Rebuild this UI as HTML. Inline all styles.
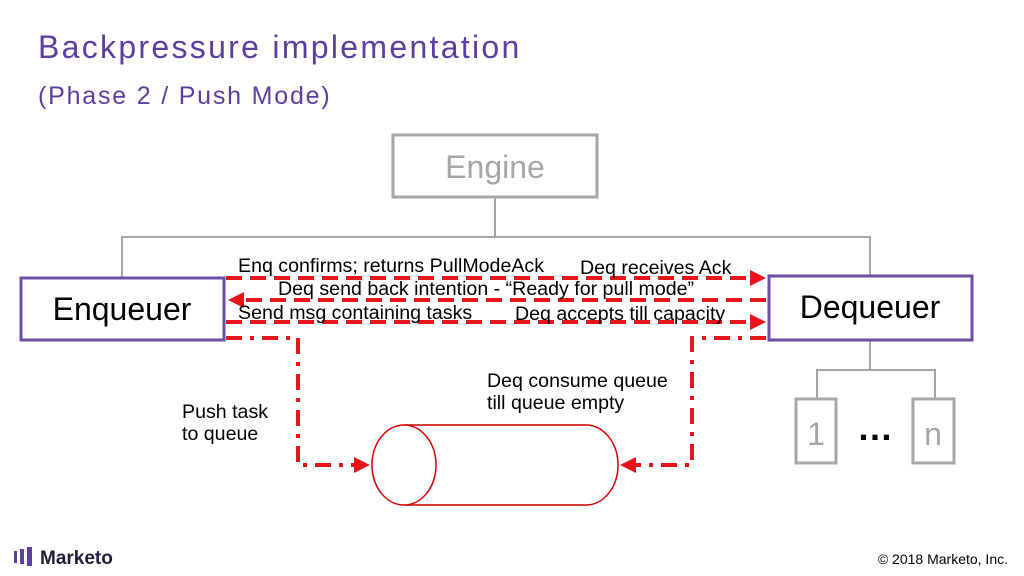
<!DOCTYPE html>
<html><head><style>
body{margin:0;width:1024px;height:576px;background:#fff;overflow:hidden;font-family:"Liberation Sans",sans-serif;position:relative}
.t{position:absolute;white-space:nowrap}
</style></head><body>
<div class="t" style="left:38px;top:29px;font-size:32px;letter-spacing:2.3px;color:#5b3fa0">Backpressure implementation</div>
<div class="t" style="left:38px;top:82px;font-size:25px;letter-spacing:1.8px;color:#5b3fa0">(Phase 2 / Push Mode)</div>
<svg width="1024" height="576" style="position:absolute;left:0;top:0" font-family="Liberation Sans, sans-serif">
<defs><marker id="a" markerWidth="4" markerHeight="4" refX="2" refY="2" orient="auto"><path d="M0,0L4,2L0,4z" fill="#e8141a"/></marker></defs>
<g stroke="#a6a6a6" stroke-width="2" fill="none">
<path d="M495,197V237M122,278V237H870V276M870,340V370M817,398V370H935V398"/>
</g>
<rect x="393" y="135" width="204" height="62" fill="#fff" stroke="#a6a6a6" stroke-width="3"/>
<text x="495" y="178" font-size="32" fill="#a6a6a6" text-anchor="middle">Engine</text>
<rect x="21" y="278" width="203" height="62" fill="#fff" stroke="#6a50a7" stroke-width="3"/>
<text x="122" y="320" font-size="32" text-anchor="middle">Enqueuer</text>
<rect x="769" y="276" width="203" height="64" fill="#fff" stroke="#6a50a7" stroke-width="3"/>
<text x="870" y="318" font-size="32" text-anchor="middle">Dequeuer</text>
<rect x="796" y="399" width="40" height="64" fill="#fff" stroke="#a6a6a6" stroke-width="3"/>
<rect x="913" y="399" width="41" height="64" fill="#fff" stroke="#a6a6a6" stroke-width="3"/>
<text x="816" y="445" font-size="32" fill="#a6a6a6" text-anchor="middle">1</text>
<text x="933" y="445" font-size="32" fill="#a6a6a6" text-anchor="middle">n</text>
<text x="875" y="440" font-size="36" font-weight="bold" text-anchor="middle">…</text>
<g stroke="#e8141a" stroke-width="4" fill="none" stroke-dasharray="16,8">
<path d="M226,278H758" marker-end="url(#a)"/>
<path d="M766,300H236" marker-end="url(#a)"/>
<path d="M226,322H758" marker-end="url(#a)"/>
</g>
<g stroke="#e8141a" stroke-width="4" fill="none" stroke-dasharray="16,8,4,8">
<path d="M226,338H298V465H362" marker-end="url(#a)"/>
<path d="M766,338H692V465H628" marker-end="url(#a)"/>
</g>
<g stroke="#d40000" stroke-width="1.5" fill="#fff">
<path d="M404,425H586A32,40 0 0 1 586,505H404"/>
<ellipse cx="404" cy="465" rx="32" ry="40"/>
</g>
<g font-size="19.6" fill="#000">
<text x="238" y="272">Enq confirms; returns PullModeAck</text>
<text x="580" y="274">Deq receives Ack</text>
<text x="278" y="295">Deq send back intention - “Ready for pull mode”</text>
<text x="238" y="319">Send msg containing tasks</text>
<text x="515" y="320">Deq accepts till capacity</text>
<text x="487" y="387">Deq consume queue</text>
<text x="487" y="409">till queue empty</text>
<text x="182" y="418">Push task</text>
<text x="182" y="440">to queue</text>
</g>
<g fill="#5b3fa0"><rect x="14" y="551" width="3" height="12"/><rect x="20" y="549" width="4" height="15"/><rect x="27" y="547" width="5" height="19"/></g>
<text x="40" y="564" font-size="19" font-weight="bold" fill="#1e1e3c">Marketo</text>
<text x="1008" y="564" font-size="14" text-anchor="end">© 2018 Marketo, Inc.</text>
</svg>
</body></html>
